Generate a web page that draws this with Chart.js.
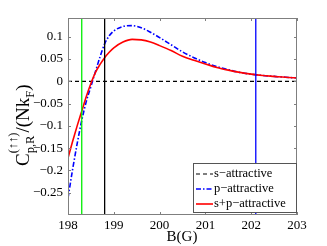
<!DOCTYPE html>
<html>
<head>
<meta charset="utf-8">
<script src="https://cdn.jsdelivr.net/npm/chart.js@4"></script>
<style>
  html, body { margin: 0; padding: 0; background: #fff; }
  #wrap { width: 327px; height: 246px; }
</style>
</head>
<body>
<div id="wrap"><canvas id="chart" width="327" height="246"></canvas></div>
<script>
// magnetic field B (G)
const fieldB = [198, 198.1, 198.2, 198.3, 198.4, 198.5, 198.6, 198.7, 198.8, 198.9, 199,
  199.2, 199.4, 199.6, 199.8, 200, 200.25, 200.5, 200.75, 201, 201.25, 201.5, 201.75,
  202, 202.25, 202.5, 202.75, 203];
const pAttractive = [-0.262, -0.198, -0.140, -0.088, -0.045, -0.012, 0.022, 0.055, 0.084, 0.102, 0.113,
  0.123, 0.125, 0.120, 0.110, 0.098, 0.082, 0.066, 0.053, 0.042, 0.033, 0.026, 0.020,
  0.016, 0.013, 0.011, 0.009, 0.0075];
const spAttractive = [-0.172, -0.135, -0.100, -0.067, -0.034, -0.005, 0.020, 0.038, 0.053, 0.065, 0.075,
  0.088, 0.094, 0.093, 0.088, 0.080, 0.069, 0.056, 0.047, 0.039, 0.031, 0.025, 0.020,
  0.016, 0.013, 0.011, 0.009, 0.0075];
// s-attractive is zero over the range
const sB = [198, 203];
const sAttractive = [0, 0];
// vertical marker lines
const markerB = [198.3, 198.8, 202.1];
const markerColors = ['#00ee00', '#000000', '#0000ff'];
const xTicks = [198, 199, 200, 201, 202, 203];
const yTicks = [-0.25, -0.2, -0.15, -0.1, -0.05, 0, 0.05, 0.1];
const yMin = -0.3, yMax = 0.142;

const toPts = (xs, ys) => xs.map((x, i) => ({ x: x, y: ys[i] }));
const fmt = v => (v < 0 ? '\u2212' : '') + String(Math.abs(Math.round(v * 100) / 100));

const datasets = [
  { label: 's\u2212attractive', data: toPts(sB, sAttractive), borderColor: '#000', borderWidth: 1.2,
    borderDash: [4, 3], order: 3 },
  { label: 'p\u2212attractive', data: toPts(fieldB, pAttractive), borderColor: '#0000ff', borderWidth: 1.6,
    borderDash: [5, 2, 1.5, 2], cubicInterpolationMode: 'monotone', order: 2 },
  { label: 's+p\u2212attractive', data: toPts(fieldB, spAttractive), borderColor: '#ff0000', borderWidth: 1.6,
    cubicInterpolationMode: 'monotone', order: 1 }
];
markerB.forEach((b, i) => {
  datasets.push({ label: '', data: [{ x: b, y: yMin }, { x: b, y: yMax }], borderColor: markerColors[i],
    borderWidth: 1.3, order: 0 });
});

const serif = '"Liberation Serif", "DejaVu Serif", serif';

const framePlugin = {
  id: 'frame',
  afterDatasetsDraw(chart) {
    const { ctx, chartArea: a, scales } = chart;
    ctx.save();
    // box
    ctx.strokeStyle = '#7f7f7f';
    ctx.lineWidth = 1;
    ctx.strokeRect(a.left + 0.5, a.top + 0.5, a.right - a.left - 1, a.bottom - a.top - 1);
    // inward ticks
    ctx.beginPath();
    xTicks.forEach(t => {
      const x = Math.round(scales.x.getPixelForValue(t)) + 0.5;
      ctx.moveTo(x, a.bottom); ctx.lineTo(x, a.bottom - 3);
      ctx.moveTo(x, a.top); ctx.lineTo(x, a.top + 3);
    });
    yTicks.forEach(t => {
      const y = Math.round(scales.y.getPixelForValue(t)) + 0.5;
      ctx.moveTo(a.left, y); ctx.lineTo(a.left + 3, y);
      ctx.moveTo(a.right, y); ctx.lineTo(a.right - 3, y);
    });
    ctx.stroke();

    // legend box
    const lx = 193, ly = 163, lw = a.right - 1 - 193, lh = 49;
    ctx.fillStyle = '#fff';
    ctx.fillRect(lx, ly, lw, lh);
    ctx.strokeStyle = '#555';
    ctx.strokeRect(lx + 0.5, ly + 0.5, lw, lh);
    const rows = [174, 189, 204];
    ctx.font = '12.5px ' + serif;
    ctx.textBaseline = 'middle';
    ctx.textAlign = 'left';
    datasets.slice(0, 3).forEach((d, i) => {
      ctx.beginPath();
      ctx.strokeStyle = d.borderColor;
      ctx.lineWidth = d.borderWidth;
      ctx.setLineDash(d.borderDash || []);
      ctx.moveTo(196, rows[i]); ctx.lineTo(213, rows[i]);
      ctx.stroke();
      ctx.setLineDash([]);
      ctx.fillStyle = '#000';
      ctx.fillText(d.label, 214, rows[i]);
    });

    // x title
    ctx.font = '15px ' + serif;
    ctx.textAlign = 'center';
    ctx.textBaseline = 'alphabetic';
    ctx.fillText('B(G)', 182, 241);

    // y title, rotated
    ctx.translate(29, 166);
    ctx.rotate(-Math.PI / 2);
    ctx.textAlign = 'left';
    let x = 0;
    const big = '19px ' + serif, small = '12.5px ' + serif;
    ctx.font = big; ctx.fillText('C', x, 0); x += ctx.measureText('C').width;
    ctx.font = small;
    ctx.fillText('(\u2191\u2191)', x, -12);
    ctx.fillText('p,R', x, 5);
    x += Math.max(ctx.measureText('(\u2191\u2191)').width, ctx.measureText('p,R').width);
    ctx.font = big; ctx.fillText('/(Nk', x, 0); x += ctx.measureText('/(Nk').width;
    ctx.font = small; ctx.fillText('F', x, 5); x += ctx.measureText('F').width;
    ctx.font = big; ctx.fillText(')', x, 0);
    ctx.restore();
  }
};

new Chart(document.getElementById('chart'), {
  type: 'line',
  data: { datasets: datasets },
  options: {
    responsive: false,
    animation: false,
    elements: { point: { radius: 0 }, line: { tension: 0 } },
    layout: { padding: { left: 0, right: 30, top: 18, bottom: 0 } },
    plugins: { legend: { display: false }, tooltip: { enabled: false } },
    scales: {
      x: {
        type: 'linear', min: 198, max: 203,
        afterBuildTicks: s => { s.ticks = xTicks.map(v => ({ value: v })); },
        afterFit: s => { s.height = 31; },
        grid: { display: false, drawTicks: false },
        border: { display: false },
        ticks: { color: '#000', padding: 3, maxRotation: 0, font: { family: serif, size: 13 },
          callback: v => String(v) }
      },
      y: {
        type: 'linear', min: yMin, max: yMax,
        afterBuildTicks: s => { s.ticks = yTicks.map(v => ({ value: v })); },
        afterFit: s => { s.width = 68; },
        grid: { display: false, drawTicks: false },
        border: { display: false },
        ticks: { color: '#000', padding: 5, font: { family: serif, size: 13 },
          callback: v => fmt(v) }
      }
    }
  },
  plugins: [framePlugin]
});
</script>
</body>
</html>
